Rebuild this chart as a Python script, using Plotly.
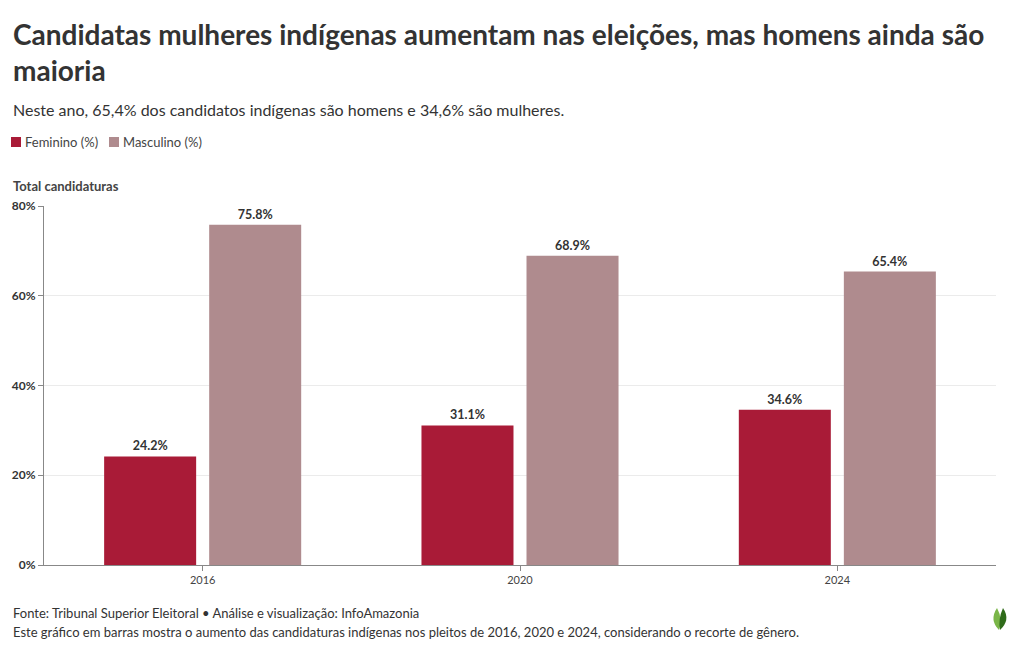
import plotly.graph_objects as go

years = ["2016", "2020", "2024"]
feminino = [24.2, 31.1, 34.6]
masculino = [75.8, 68.9, 65.4]
y_ticks = [0, 20, 40, 60, 80]
y_tick_labels = ["<b>0%</b>", "<b>20%</b>", "<b>40%</b>", "<b>60%</b>", "<b>80%</b>"]
series_names = ["Feminino (%)", "Masculino (%)"]
series_colors = ["#a91b37", "#af8b8e"]

FONT = "Lato, Roboto, sans-serif"

W, H = 1020, 650
pl, pr, pt, pb = 44, 24, 206, 85
pw, ph = W - pl - pr, H - pt - pb


def px(x):
    return (x - pl) / pw


def py(y):
    return (H - pb - y) / ph


fig = go.Figure()
for name, vals, col in zip(series_names, [feminino, masculino], series_colors):
    fig.add_trace(go.Bar(
        x=years, y=vals, name=name,
        marker=dict(color=col, line=dict(width=0)),
        text=[f"<b>{v:.1f}%</b>" for v in vals], textposition="outside",
        textfont=dict(size=12.5, color="#333333", family=FONT),
        cliponaxis=False, showlegend=False,
    ))

fig.update_layout(
    width=W, height=H,
    margin=dict(l=pl, r=pr, t=pt, b=pb),
    paper_bgcolor="white", plot_bgcolor="white",
    font=dict(family=FONT, color="#333333"),
    barmode="group", bargap=0.338, bargroupgap=0.124,
    showlegend=False,
    xaxis=dict(showline=True, linecolor="#888888", linewidth=1,
               ticks="outside", ticklen=5, tickcolor="#888888",
               tickfont=dict(size=11, color="#444444")),
    yaxis=dict(range=[0, 80], tickvals=y_ticks, ticktext=y_tick_labels,
               showline=True, linecolor="#888888", linewidth=1,
               ticks="outside", ticklen=5, tickcolor="#888888",
               showgrid=True, gridcolor="#ebebeb",
               tickfont=dict(size=12, color="#333333"), zeroline=False),
)

anns = [
    dict(text="<b>Candidatas mulheres indígenas aumentam nas eleições, mas homens ainda são<br>maioria</b>",
         x=px(11), y=py(52), xanchor="left", yanchor="middle", align="left",
         font=dict(size=28, color="#333333")),
    dict(text="Neste ano, 65,4% dos candidatos indígenas são homens e 34,6% são mulheres.",
         x=px(11), y=py(109), xanchor="left", yanchor="middle", align="left",
         font=dict(size=16, color="#333333")),
    dict(text="<b>Total candidaturas</b>",
         x=px(11), y=py(186), xanchor="left", yanchor="middle", align="left",
         font=dict(size=13, color="#444444")),
    dict(text="Fonte: Tribunal Superior Eleitoral • Análise e visualização: InfoAmazonia",
         x=px(11), y=py(613), xanchor="left", yanchor="middle", align="left",
         font=dict(size=13, color="#333333")),
    dict(text="Este gráfico em barras mostra o aumento das candidaturas indígenas nos pleitos de 2016, 2020 e 2024, considerando o recorte de gênero.",
         x=px(11), y=py(632), xanchor="left", yanchor="middle", align="left",
         font=dict(size=13, color="#333333")),
]

# manual legend (squares + labels)
leg_x = [11, 109]
for name, col, lx in zip(series_names, series_colors, leg_x):
    fig.add_shape(type="rect", xref="paper", yref="paper",
                  x0=px(lx), x1=px(lx + 10), y0=py(147), y1=py(137),
                  fillcolor=col, line=dict(width=0))
    anns.append(dict(text=name, x=px(lx + 12), y=py(142), xanchor="left",
                     yanchor="middle", align="left",
                     font=dict(size=13, color="#444444")))

for a in anns:
    a.update(xref="paper", yref="paper", showarrow=False)
fig.update_layout(annotations=anns)

# small leaf logo
fig.add_shape(type="path", xref="paper", yref="paper",
              path=f"M {px(999)} {py(630)} Q {px(989)} {py(620)} {px(997)} {py(608)} Q {px(1003)} {py(619)} {px(999)} {py(630)} Z",
              fillcolor="#7ab648", line=dict(width=0))
fig.add_shape(type="path", xref="paper", yref="paper",
              path=f"M {px(1000)} {py(630)} Q {px(1011)} {py(620)} {px(1003)} {py(608)} Q {px(998)} {py(619)} {px(1000)} {py(630)} Z",
              fillcolor="#2f6b1a", line=dict(width=0))

fig.write_html("out.html", config={"displayModeBar": False},
               post_script="document.body.style.margin='0';document.body.style.padding='0';document.body.style.overflow='hidden';")
